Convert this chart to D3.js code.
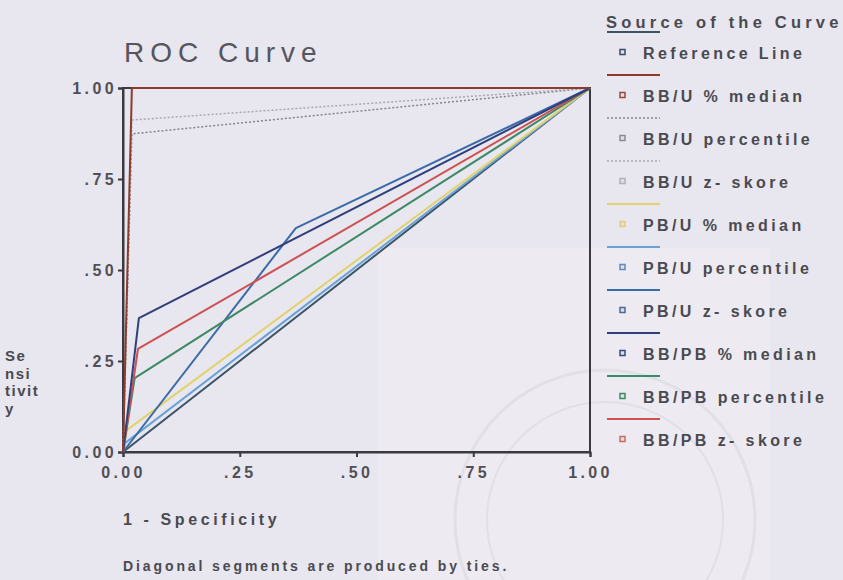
<!DOCTYPE html>
<html>
<head>
<meta charset="utf-8">
<script src="https://cdn.jsdelivr.net/npm/d3@7"></script>
<style>
  html, body { margin: 0; padding: 0; background: #e8e6ee; }
  svg { display: block; }
  text { font-family: "Liberation Sans", Arial, sans-serif; fill: #4a4a50; }
</style>
</head>
<body>
<svg id="chart" width="843" height="580"></svg>
<script>
// ROC curves: one point list per source (false positive rate, sensitivity)
const curveNames = [
  "Reference Line", "BB/U %  median", "BB/U percentile", "BB/U z- skore",
  "PB/U %  median", "PB/U percentile", "PB/U z- skore",
  "BB/PB % median", "BB/PB percentile", "BB/PB z- skore"
];
const curveFpr = [
  [0, 1],
  [0, 0.019, 1],
  [0, 0.019, 1],
  [0, 0.019, 1],
  [0, 0.008, 1],
  [0, 0.005, 1],
  [0, 0.37, 1],
  [0, 0.034, 1],
  [0, 0.025, 1],
  [0, 0.032, 1]
];
const curveTpr = [
  [0, 1],
  [0, 1, 1],
  [0, 0.874, 1],
  [0, 0.912, 1],
  [0, 0.06, 1],
  [0, 0.025, 1],
  [0, 0.615, 1],
  [0, 0.368, 1],
  [0, 0.203, 1],
  [0, 0.283, 1]
];
const tickValues = [0, 0.25, 0.5, 0.75, 1];
const tickLabels = ["0.00", ".25", ".50", ".75", "1.00"];

// drawing styles per curve
const curveStyle = [
  { color: "#3b5566", dash: null,  mark: "#3b4a66" },
  { color: "#8c3b2c", dash: null,  mark: "#9a4a3a" },
  { color: "#85858f", dash: "2,2", mark: "#8a8a94" },
  { color: "#a9a9b3", dash: "2,2", mark: "#b0b0b8" },
  { color: "#e2d26e", dash: null,  mark: "#e2d070" },
  { color: "#6aa2d8", dash: null,  mark: "#5a8cc0" },
  { color: "#3a6aa8", dash: null,  mark: "#4a6a98" },
  { color: "#2f3f7c", dash: null,  mark: "#3a4a80" },
  { color: "#3d8a66", dash: null,  mark: "#3d8a66" },
  { color: "#cc5252", dash: null,  mark: "#d06a5a" }
];

const svg = d3.select("#chart");

// lighter paper patch and the faint seal printed behind the chart
svg.append("rect").attr("x", 378).attr("y", 248).attr("width", 392).attr("height", 332)
  .attr("fill", "#edebf1");
const seal = svg.append("g").attr("fill", "none").attr("stroke", "#e1dfe7");
seal.append("circle").attr("cx", 605).attr("cy", 520).attr("r", 150).attr("stroke-width", 3);
seal.append("circle").attr("cx", 605).attr("cy", 520).attr("r", 118).attr("stroke-width", 2);

const x = d3.scaleLinear().domain([0, 1]).range([123, 590]);
const y = d3.scaleLinear().domain([0, 1]).range([452, 88]);

// title
svg.append("text").attr("x", 124).attr("y", 62)
  .style("font-size", "28px").style("letter-spacing", "6px").style("fill", "#55555c")
  .text("ROC Curve");

// frame
svg.append("rect").attr("x", x(0)).attr("y", y(1))
  .attr("width", x(1) - x(0)).attr("height", y(0) - y(1))
  .attr("fill", "none").attr("stroke", "#3a3a40").attr("stroke-width", 2);

// axes
const xAxis = d3.axisBottom(x).tickValues(tickValues)
  .tickFormat((d, i) => tickLabels[i]).tickSize(5).tickPadding(4);
const yAxis = d3.axisLeft(y).tickValues(tickValues)
  .tickFormat((d, i) => tickLabels[i]).tickSize(5).tickPadding(1);

const gx = svg.append("g").attr("transform", `translate(0,${y(0)})`).call(xAxis);
const gy = svg.append("g").attr("transform", `translate(${x(0)},0)`).call(yAxis);
[gx, gy].forEach(g => {
  g.select(".domain").attr("stroke", "#3a3a40").attr("stroke-width", 2);
  g.selectAll(".tick line").attr("stroke", "#3a3a40").attr("stroke-width", 2);
  g.selectAll(".tick text")
    .style("font-family", "'Liberation Sans', Arial, sans-serif")
    .style("font-size", "16px").style("font-weight", "bold")
    .style("letter-spacing", "3.4px").style("fill", "#505056");
});
gx.selectAll(".tick text").attr("dy", "1.05em");

// curves
const line = d3.line().x(d => x(d[0])).y(d => y(d[1]));
const curves = curveNames.map((name, i) => ({
  name, style: curveStyle[i],
  pts: curveFpr[i].map((f, j) => [f, curveTpr[i][j]])
}));
const drawOrder = [0, 5, 4, 6, 8, 9, 7, 2, 3, 1];
drawOrder.forEach(i => {
  const c = curves[i];
  svg.append("path").datum(c.pts).attr("d", line)
    .attr("fill", "none").attr("stroke", c.style.color)
    .attr("stroke-width", c.style.dash ? 1.5 : 2)
    .attr("stroke-dasharray", c.style.dash)
    .attr("stroke-linejoin", "round");
});

// y axis title, wrapped the way the source labels it
const yTitle = ["Se", "nsi", "tivit", "y"];
svg.append("g").selectAll("text").data(yTitle).join("text")
  .attr("x", 5).attr("y", (d, i) => 361 + i * 17.5)
  .style("font-size", "15px").style("font-weight", "bold").style("letter-spacing", "1.5px")
  .text(d => d);

// x axis title and footnote
svg.append("text").attr("x", 123).attr("y", 525)
  .style("font-size", "16px").style("font-weight", "bold").style("letter-spacing", "3.6px")
  .text("1 - Specificity");
svg.append("text").attr("x", 123).attr("y", 571)
  .style("font-size", "14px").style("font-weight", "bold").style("letter-spacing", "2.9px")
  .text("Diagonal segments are produced by ties.");

// legend
const lg = svg.append("g");
lg.append("text").attr("x", 606).attr("y", 28)
  .style("font-size", "16.5px").style("font-weight", "bold").style("letter-spacing", "4.2px")
  .text("Source of the Curve");
curves.forEach((c, i) => {
  const lineY = 32 + i * 43;
  const labelY = 53 + i * 43;
  lg.append("line").attr("x1", 607).attr("x2", 660).attr("y1", lineY).attr("y2", lineY)
    .attr("stroke", c.style.color).attr("stroke-width", c.style.dash ? 1.5 : 2)
    .attr("stroke-dasharray", c.style.dash);
  lg.append("rect").attr("x", 620).attr("y", labelY - 3.5).attr("width", 5).attr("height", 5)
    .attr("fill", "#e0dee8").attr("stroke", c.style.mark).attr("stroke-width", 1.5);
  lg.append("text").attr("x", 643).attr("y", labelY + 5.5)
    .style("font-size", "16px").style("font-weight", "bold").style("letter-spacing", "3.4px")
    .text(c.name);
});
</script>
</body>
</html>
